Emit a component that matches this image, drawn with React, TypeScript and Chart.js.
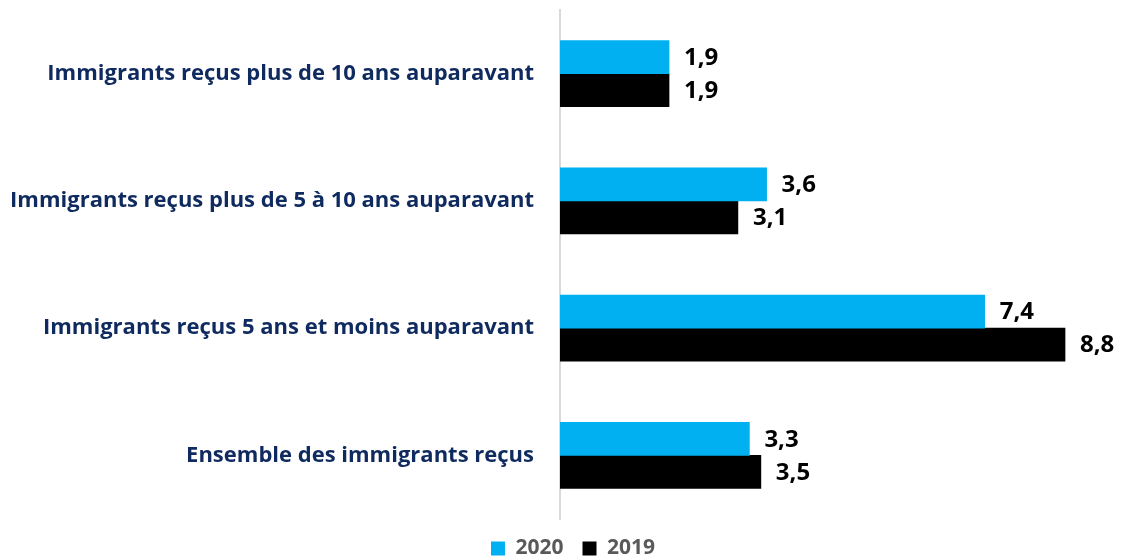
import React, { useEffect, useRef } from "react";
import { Chart, registerables } from "chart.js";

Chart.register(...registerables);

const categories = [
  "Immigrants reçus plus de 10 ans auparavant",
  "Immigrants reçus plus de 5 à 10 ans auparavant",
  "Immigrants reçus 5 ans et moins auparavant",
  "Ensemble des immigrants reçus",
];
const series2020 = [1.9, 3.6, 7.4, 3.3];
const series2019 = [1.9, 3.1, 8.8, 3.5];
const seriesLabels = ["2020", "2019"];
const seriesColors = ["#00B0F0", "#000000"];

const fmt = (v: number) => v.toFixed(1).replace(".", ",");

const valueLabels = {
  id: "valueLabels",
  afterDatasetsDraw(chart: any) {
    const ctx = chart.ctx;
    ctx.save();
    ctx.font = "700 24px 'Open Sans'";
    ctx.fillStyle = "#000000";
    ctx.textAlign = "left";
    ctx.textBaseline = "middle";
    chart.data.datasets.forEach((ds: any, i: number) => {
      const meta = chart.getDatasetMeta(i);
      meta.data.forEach((bar: any, j: number) => {
        ctx.fillText(fmt(ds.data[j]), bar.x + 15, bar.y + 1);
      });
    });
    ctx.restore();
  },
};

export default function App() {
  const ref = useRef<HTMLCanvasElement>(null);
  useEffect(() => {
    if (!ref.current) return;
    const chart = new Chart(ref.current, {
      type: "bar",
      data: {
        labels: categories,
        datasets: [
          { label: seriesLabels[0], data: series2020, backgroundColor: seriesColors[0], barThickness: 33 },
          { label: seriesLabels[1], data: series2019, backgroundColor: seriesColors[1], barThickness: 33 },
        ],
      },
      options: {
        indexAxis: "y",
        animation: false,
        responsive: true,
        maintainAspectRatio: false,
        layout: { padding: { top: 10, bottom: -10, left: 0, right: -19 } },
        plugins: {
          tooltip: { enabled: false },
          legend: {
            position: "bottom",
            labels: {
              boxWidth: 14,
              boxHeight: 14,
              padding: 19,
              color: "#595959",
              font: { family: "'Open Sans'", size: 21, weight: "700" },
            },
          },
        },
        scales: {
          x: { display: false, min: 0, max: 9.88 },
          y: {
            grid: { display: false, drawTicks: true, tickLength: 26 },
            border: { display: true, color: "#D9D9D9", width: 2 },
            ticks: {
              padding: 0,
              color: "#0F2A5F",
              font: { family: "'Open Sans'", size: 22, weight: "700", lineHeight: 0.9 },
            },
            afterFit: (scale: any) => {
              scale.width = 560;
            },
          },
        },
      },
      plugins: [valueLabels],
    });
    return () => chart.destroy();
  }, []);
  return (
    <div style={{ position: "absolute", left: 0, top: 0, width: 1127, height: 559 }}>
      <canvas ref={ref} />
    </div>
  );
}
